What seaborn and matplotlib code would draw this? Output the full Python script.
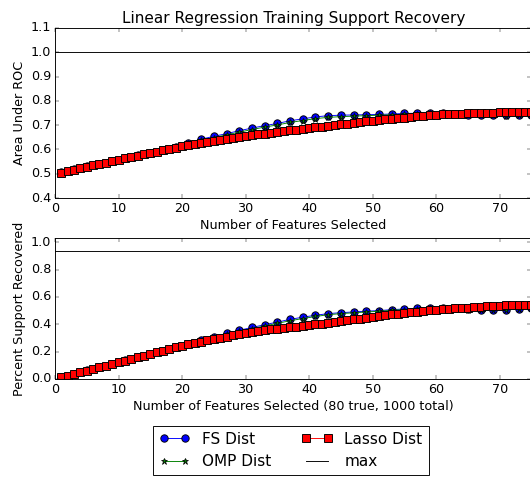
"""Support recovery comparison: FS / OMP / Lasso"""

import numpy as np
import matplotlib
matplotlib.use("Agg")
import matplotlib.pyplot as plt
import seaborn as sns

plt.style.use("classic")
plt.rcParams.update({
    "figure.facecolor": "white",
    "savefig.facecolor": "white",
    "font.family": ["DejaVu Sans"],
    "font.size": 13.8,
})

n_true = 80
n_max = 75

# feature counts
k_all = np.arange(1, 76)
k_odd = np.arange(1, 76, 2)

# area under ROC
fs_auc = [0.506, 0.518, 0.530, 0.542, 0.554, 0.565, 0.576, 0.587, 0.599, 0.610,
          0.628, 0.642, 0.654, 0.665, 0.677, 0.688, 0.698, 0.707, 0.718, 0.726,
          0.734, 0.739, 0.741, 0.742, 0.743, 0.744, 0.746, 0.748, 0.749, 0.749,
          0.748, 0.746, 0.743, 0.742, 0.741, 0.740, 0.741, 0.742]
omp_auc = [0.506, 0.518, 0.530, 0.542, 0.554, 0.565, 0.576, 0.587, 0.599, 0.610,
           0.626, 0.639, 0.649, 0.660, 0.671, 0.682, 0.692, 0.701, 0.711, 0.719,
           0.727, 0.732, 0.735, 0.737, 0.739, 0.741, 0.743, 0.745, 0.747, 0.748,
           0.747, 0.745, 0.742, 0.741, 0.740, 0.739, 0.740, 0.741]
lasso_auc = [0.505, 0.511, 0.517, 0.523, 0.529, 0.535, 0.541, 0.546, 0.552, 0.558,
             0.563, 0.569, 0.574, 0.580, 0.585, 0.591, 0.596, 0.602, 0.607, 0.613,
             0.617, 0.622, 0.626, 0.630, 0.634, 0.638, 0.643, 0.647, 0.651, 0.655,
             0.658, 0.662, 0.665, 0.668, 0.672, 0.675, 0.678, 0.681, 0.685, 0.688,
             0.691, 0.694, 0.697, 0.700, 0.703, 0.706, 0.710, 0.713, 0.716, 0.719,
             0.721, 0.724, 0.726, 0.729, 0.731, 0.733, 0.736, 0.738, 0.741, 0.743,
             0.744, 0.745, 0.746, 0.747, 0.748, 0.749, 0.750, 0.751, 0.752, 0.753,
             0.754, 0.754, 0.755, 0.755, 0.755]

# percent support recovered
fs_sup = [0.012, 0.037, 0.062, 0.087, 0.112, 0.136, 0.160, 0.184, 0.208, 0.233,
          0.258, 0.284, 0.309, 0.333, 0.356, 0.377, 0.397, 0.416, 0.436, 0.452,
          0.466, 0.478, 0.485, 0.490, 0.496, 0.500, 0.507, 0.512, 0.516, 0.519,
          0.519, 0.516, 0.509, 0.506, 0.506, 0.507, 0.511, 0.517]
omp_sup = [0.012, 0.037, 0.062, 0.087, 0.112, 0.136, 0.160, 0.184, 0.208, 0.233,
           0.256, 0.280, 0.305, 0.327, 0.349, 0.369, 0.388, 0.407, 0.426, 0.442,
           0.457, 0.470, 0.478, 0.484, 0.490, 0.495, 0.502, 0.508, 0.513, 0.517,
           0.518, 0.515, 0.508, 0.505, 0.505, 0.506, 0.510, 0.516]
lasso_sup = [0.012, 0.024, 0.037, 0.049, 0.061, 0.074, 0.086, 0.098, 0.110, 0.122,
             0.134, 0.147, 0.159, 0.171, 0.183, 0.195, 0.208, 0.220, 0.232, 0.244,
             0.254, 0.264, 0.273, 0.282, 0.291, 0.300, 0.309, 0.318, 0.326, 0.334,
             0.341, 0.348, 0.355, 0.362, 0.368, 0.373, 0.378, 0.383, 0.388, 0.393,
             0.399, 0.405, 0.411, 0.416, 0.422, 0.428, 0.435, 0.441, 0.447, 0.454,
             0.460, 0.466, 0.472, 0.477, 0.483, 0.488, 0.493, 0.498, 0.503, 0.507,
             0.510, 0.513, 0.516, 0.519, 0.522, 0.525, 0.528, 0.531, 0.534, 0.536,
             0.538, 0.539, 0.540, 0.541, 0.541]

auc_max = 1.0
sup_max = n_max / n_true


def draw_panel(ax, fs, omp, lasso, top):
    sns.lineplot(x=k_odd, y=fs, ax=ax, color="b", marker="o", markersize=8,
                 markeredgecolor="k", markeredgewidth=1, label="FS Dist")
    sns.lineplot(x=k_odd, y=omp, ax=ax, color="g", marker="*", markersize=7,
                 markeredgecolor="k", markeredgewidth=0.8, label="OMP Dist")
    sns.lineplot(x=k_all, y=lasso, ax=ax, color="r", marker="s", markersize=8,
                 markeredgecolor="k", markeredgewidth=1, label="Lasso Dist")
    ax.axhline(top, color="k", lw=1, label="max")
    ax.set_xlim(0, n_max)
    ax.legend_.remove()


fig = plt.figure(figsize=(8, 7.2))

ax1 = fig.add_axes([0.1038, 0.5849, 0.899, 0.3564])
draw_panel(ax1, fs_auc, omp_auc, lasso_auc, auc_max)
ax1.set_ylim(0.4, 1.1 * auc_max)
ax1.set_yticks(np.arange(0.4, 1.11, 0.1))
ax1.set_xlabel("Number of Features Selected")
ax1.set_ylabel("Area Under ROC")
ax1.set_title("Linear Regression Training Support Recovery")

ax2 = fig.add_axes([0.1038, 0.2055, 0.899, 0.2956])
draw_panel(ax2, fs_sup, omp_sup, lasso_sup, sup_max)
ax2.set_ylim(0, 1.1 * sup_max)
ax2.set_yticks(np.arange(0, 1.01, 0.2))
ax2.set_xlabel("Number of Features Selected (%d true, 1000 total)" % n_true)
ax2.set_ylabel("Percent Support Recovered")

handles, labels = ax2.get_legend_handles_labels()
fig.legend(handles, labels, ncol=2, loc="upper center",
           bbox_to_anchor=(0.549, 0.1237), numpoints=2, fontsize="large")

fig.savefig("out.png", dpi=66.25)
